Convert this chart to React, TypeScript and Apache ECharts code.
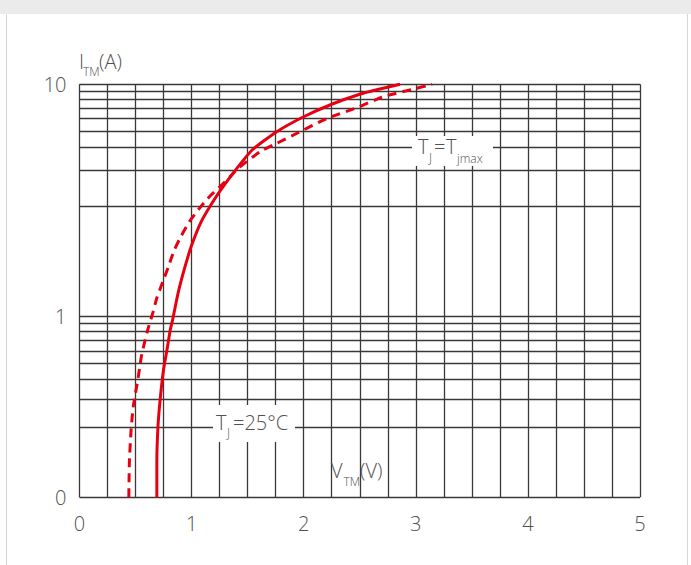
import React, { useEffect, useRef } from 'react';
import * as echarts from 'echarts';

// ---- axis definitions ----
const X_MIN = 0;
const X_MAX = 5;
const X_STEP = 0.25;
const X_LABELS = [0, 1, 2, 3, 4, 5];
const Y_GRID_VALUES = [0, 0.2, 0.3, 0.4, 0.5, 0.6, 0.7, 0.8, 0.9, 1, 2, 3, 4, 5, 6, 7, 8, 9, 10];
const Y_LABELS = [0, 1, 10];

// ---- data: T_J = 25°C (solid) ----
const SOLID_V = [0.69, 0.69, 0.70, 0.72, 0.75, 0.78, 0.81, 0.83, 0.88, 0.94, 1.0, 1.085, 1.18, 1.27, 1.40, 1.54, 1.76, 2.0, 2.25, 2.5, 2.68, 2.86];
const SOLID_I = [0, 0.12, 0.2, 0.3, 0.46, 0.61, 0.82, 0.94, 1.09, 1.24, 1.43, 1.73, 2.06, 2.42, 3.04, 3.87, 4.97, 6.15, 7.39, 8.59, 9.3, 10];

// ---- data: T_J = T_jmax (dashed) ----
const DASH_V = [0.44, 0.445, 0.46, 0.48, 0.52, 0.555, 0.605, 0.654, 0.689, 0.743, 0.793, 0.846, 0.904, 0.98, 1.07, 1.165, 1.254, 1.344, 1.404, 1.61, 1.76, 1.94, 2.21, 2.475, 2.71, 2.98, 3.145];
const DASH_I = [0, 0.12, 0.19, 0.27, 0.395, 0.57, 0.80, 1.01, 1.066, 1.147, 1.244, 1.384, 1.527, 1.73, 1.963, 2.227, 2.47, 2.77, 3.02, 3.78, 4.23, 4.86, 6.01, 7.02, 8.28, 9.3, 10];

// The printed current scale is a distorted logarithmic one:
// the lower band (0..1) and the upper band (1..10) are compressed differently.
const LOWER_SPAN = 1.143;
const UPPER_SHIFT = 0.81;
const UPPER_RATIO = 1.278;
function toAxis(v: number): number {
  if (v <= 0) return 0;
  if (v <= 1) return Math.max(0, 1 + Math.log10(v) / LOWER_SPAN);
  const f = Math.log10((v - UPPER_SHIFT) / (1 - UPPER_SHIFT)) / Math.log10((10 - UPPER_SHIFT) / (1 - UPPER_SHIFT));
  return 1 + UPPER_RATIO * f;
}

const FONT = "'Open Sans', 'Noto Sans', sans-serif";
const TXT = '#505050';
const GRID = '#3d3838';
const RED = '#e60012';

function txt(text: string, x: number, y: number, size: number) {
  return {
    type: 'text', x, y, z: 101,
    style: { text, fontSize: size, fontFamily: FONT, fontWeight: 300, fill: TXT, align: 'left', verticalAlign: 'middle' },
  };
}

export default function App() {
  const ref = useRef<HTMLDivElement>(null);
  useEffect(() => {
    const chart = echarts.init(ref.current!, null, { renderer: 'svg' });
    const yTop = toAxis(10);
    const labelFor = (val: number) => {
      for (const l of Y_LABELS) if (Math.abs(toAxis(l) - val) < 1e-6) return String(l);
      return '';
    };
    chart.setOption({
      animation: false,
      backgroundColor: '#ffffff',
      grid: { left: 79.5, right: 51, top: 84.3, bottom: 67.7 },
      xAxis: {
        type: 'value', min: X_MIN, max: X_MAX, interval: X_STEP,
        axisLine: { show: false }, axisTick: { show: false },
        splitLine: { show: true, lineStyle: { color: GRID, width: 1.3 } },
        axisLabel: {
          customValues: X_LABELS, margin: 16,
          fontSize: 20, fontFamily: FONT, fontWeight: 300, color: TXT,
          formatter: (v: number) => String(v),
        },
      },
      yAxis: {
        type: 'value', min: 0, max: yTop,
        axisLine: { show: false },
        axisTick: { show: false, customValues: Y_GRID_VALUES.map(toAxis) },
        splitLine: { show: true, lineStyle: { color: GRID, width: 1.3 } },
        axisLabel: {
          customValues: Y_LABELS.map(toAxis), margin: 13,
          fontSize: 20, fontFamily: FONT, fontWeight: 300, color: TXT,
          formatter: (v: number) => labelFor(v),
        },
      },
      series: [
        {
          name: 'Tj=25', type: 'line', showSymbol: false, smooth: 0.2,
          data: SOLID_V.map((v, i) => [v, toAxis(SOLID_I[i])]),
          lineStyle: { color: RED, width: 3 }, z: 5,
        },
        {
          name: 'Tjmax', type: 'line', showSymbol: false, smooth: 0.2,
          data: DASH_V.map((v, i) => [v, toAxis(DASH_I[i])]),
          lineStyle: { color: RED, width: 3, type: [9, 6] }, z: 5,
        },
      ],
      graphic: [
        { type: 'rect', z: 100, shape: { x: 0, y: 0, width: 691, height: 14 }, style: { fill: '#ebebeb' } },
        { type: 'line', z: 100, shape: { x1: 6.5, y1: 14, x2: 6.5, y2: 565 }, style: { stroke: '#d6d6d6', lineWidth: 1 } },
        { type: 'line', z: 100, shape: { x1: 687.5, y1: 14, x2: 687.5, y2: 565 }, style: { stroke: '#d6d6d6', lineWidth: 1 } },
        // axis titles
        txt('I', 79, 61, 20),
        txt('TM', 83, 71, 12),
        txt('(A)', 99, 61, 20),
        txt('V', 331, 470, 20),
        txt('TM', 343.5, 481, 12),
        txt('(V)', 360, 470, 20),
        // T_J = 25°C
        { type: 'rect', z: 100, shape: { x: 213, y: 405, width: 82, height: 37 }, style: { fill: '#ffffff' } },
        txt('T', 216, 422, 20),
        txt('J', 227, 432, 12),
        txt('=25°C', 233, 422, 20),
        // T_J = T_jmax
        { type: 'rect', z: 100, shape: { x: 412, y: 136, width: 81, height: 30 }, style: { fill: '#ffffff' } },
        txt('T', 418, 146, 20),
        txt('J', 429, 157, 12),
        txt('=', 434, 146, 20),
        txt('T', 446, 146, 20),
        txt('jmax', 457, 158, 12),
      ],
    });
    return () => chart.dispose();
  }, []);
  return <div ref={ref} style={{ position: 'fixed', left: 0, top: 0, width: 691, height: 565 }} />;
}
